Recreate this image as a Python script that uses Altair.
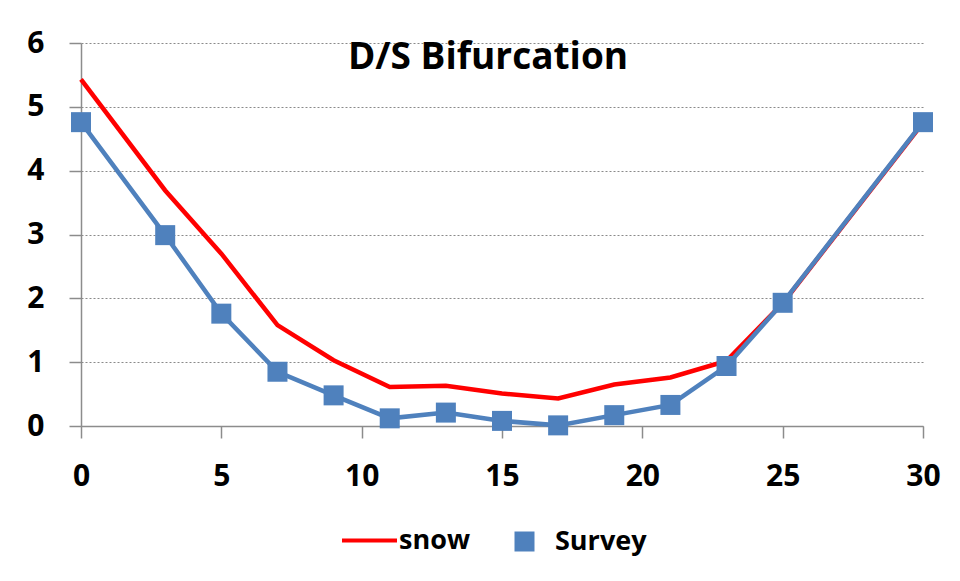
import altair as alt
import pandas as pd

x_vals = [0, 3, 5, 7, 9, 11, 13, 15, 17, 19, 21, 23, 25, 30]
snow = [5.43, 3.69, 2.70, 1.58, 1.03, 0.61, 0.63, 0.51, 0.43, 0.65, 0.76, 1.02, 1.92, 4.75]
survey = [4.76, 2.99, 1.76, 0.85, 0.48, 0.12, 0.21, 0.08, 0.01, 0.17, 0.33, 0.94, 1.93, 4.76]
series_names = ["snow", "Survey"]
series_colors = ["#FF0000", "#4F81BD"]
x_ticks = [0, 5, 10, 15, 20, 25, 30]
y_ticks = [0, 1, 2, 3, 4, 5, 6]

rows = []
for i, xv in enumerate(x_vals):
    rows.append({"x": xv, "y": snow[i], "series": "snow", "order": 0})
    rows.append({"x": xv, "y": survey[i], "series": "Survey", "order": 1})
df = pd.DataFrame(rows)
survey_df = df[df.series == "Survey"]

FONT = "Open Sans"

xenc = alt.X("x:Q", scale=alt.Scale(domain=[0, 30], nice=False),
             axis=alt.Axis(values=x_ticks, title=None, grid=False, tickSize=12,
                           labelPadding=23, labelFontSize=30, labelFlush=False,
                           format="d"))
yenc = alt.Y("y:Q", scale=alt.Scale(domain=[0, 6], nice=False),
             axis=alt.Axis(values=y_ticks, title=None, grid=True, tickSize=12,
                           labelPadding=25, labelFontSize=30, labelFlush=False,
                           format="d",
                           gridDash=[2, 2], gridColor="#8a8a8a", gridWidth=1))

lines = alt.Chart(df).mark_line(strokeWidth=4.5).encode(
    x=xenc, y=yenc,
    color=alt.Color("series:N",
                    scale=alt.Scale(domain=series_names, range=series_colors),
                    sort=series_names,
                    legend=alt.Legend(values=["snow"], title=None, orient="none",
                                      legendX=259, legendY=468, symbolType="stroke",
                                      symbolSize=3025, symbolStrokeWidth=4,
                                      labelOffset=0, padding=0)),
    order="order:Q",
    detail="series:N",
)

points = alt.Chart(survey_df).mark_point(filled=True, opacity=1, size=400, color="#4F81BD").encode(
    x="x:Q", y="y:Q",
    shape=alt.Shape("series:N",
                    scale=alt.Scale(domain=["Survey"], range=["square"]),
                    legend=alt.Legend(title=None, orient="none", legendX=430, legendY=485,
                                      symbolSize=400, symbolFillColor="#4F81BD",
                                      symbolStrokeWidth=0, labelOffset=17, padding=0)),
)

chart = alt.layer(lines, points).properties(
    width=842, height=383,
    autosize=alt.AutoSizeParams(type="none"),
    padding={"left": 73, "top": 35, "right": 29, "bottom": 147},
    title=alt.TitleParams(text="D/S Bifurcation", font=FONT, fontSize=37,
                          fontWeight="bold", anchor="middle", dx=-14, dy=78,
                          baseline="alphabetic", offset=0, color="black"),
).configure_view(stroke=None).configure_axis(
    labelFont=FONT, labelFontWeight="bold", labelColor="black",
    domainColor="#8c8c8c", domainWidth=1.5, tickColor="#8c8c8c", tickWidth=1.5,
).configure_legend(
    labelFont=FONT, labelFontSize=27, labelFontWeight="bold", labelColor="black",
    labelLimit=0,
)

chart.save("out.html", embed_options={"renderer": "svg", "actions": False})
